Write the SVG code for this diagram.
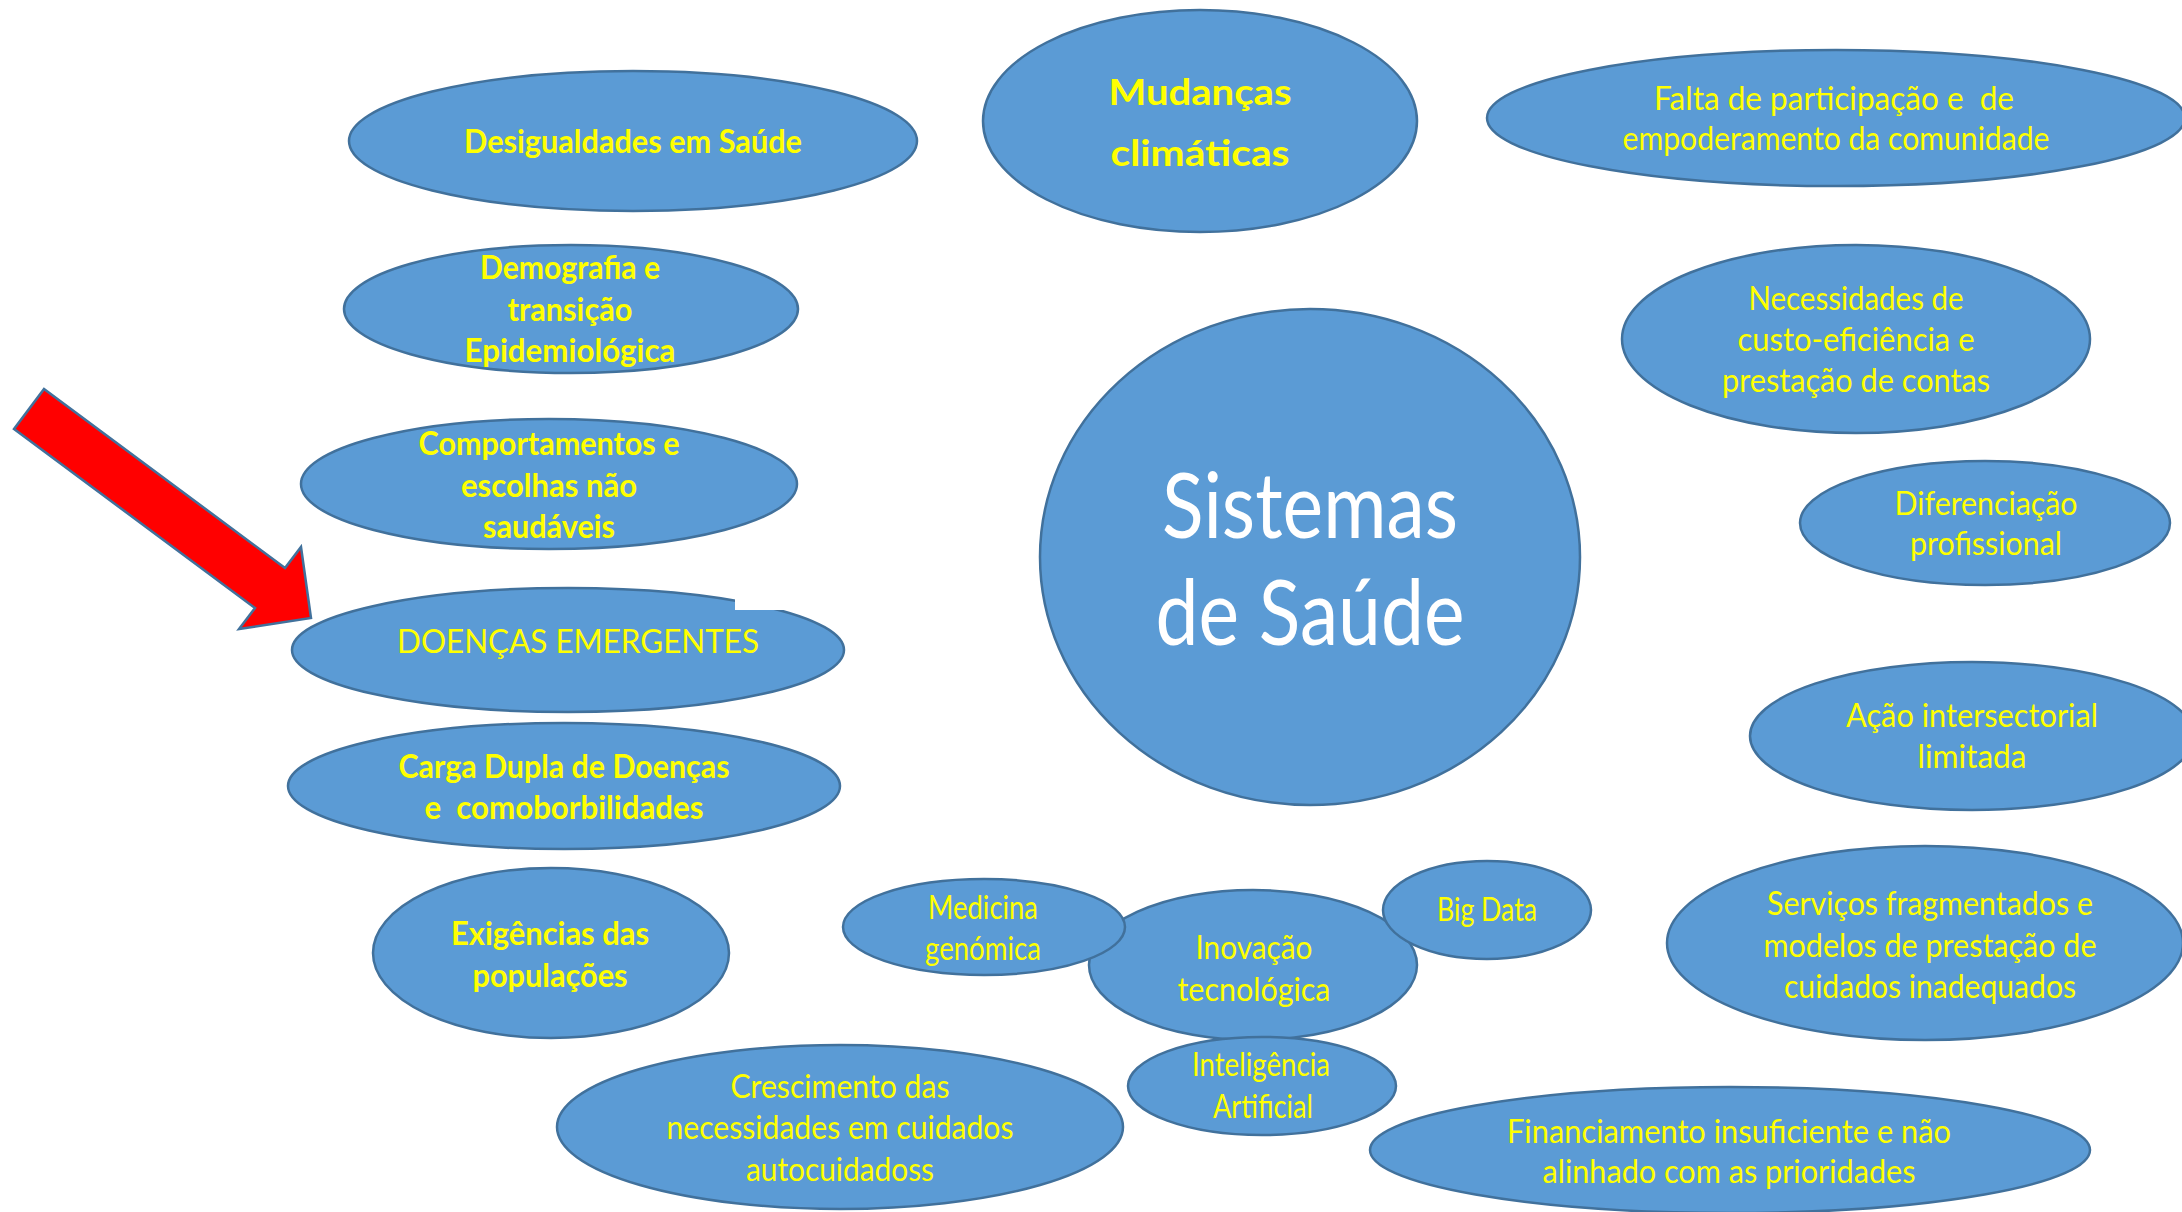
<svg xmlns="http://www.w3.org/2000/svg" width="2182" height="1212" viewBox="0 0 2182 1212">
<style>
.n{fill:#5B9BD5;stroke:#41719C;stroke-width:2.5}
.t{font-family:Lato,"Open Sans","Liberation Sans",sans-serif;font-size:33px;fill:#FFFF00;text-anchor:middle}
.b{font-weight:bold}
.w{font-family:Lato,"Open Sans","Liberation Sans",sans-serif;font-size:92px;fill:#FFFFFF;text-anchor:middle}
.arrow{fill:#FF0000;stroke:#41719C;stroke-width:2.5;stroke-linejoin:miter}
</style>
<rect x="0" y="0" width="2182" height="1212" fill="#FFFFFF"/>

<g id="desigualdades">
<ellipse class="n" cx="633" cy="141" rx="284" ry="70"/>
<text class="t b" x="633" y="153" textLength="338" lengthAdjust="spacingAndGlyphs">Desigualdades em Saúde</text>
</g>

<g id="demografia">
<ellipse class="n" cx="571" cy="309" rx="227" ry="64"/>
<text class="t b" x="570" y="279" textLength="180" lengthAdjust="spacingAndGlyphs">Demografia e</text>
<text class="t b" x="570" y="321" textLength="125" lengthAdjust="spacingAndGlyphs">transição</text>
<text class="t b" x="570" y="362" textLength="211" lengthAdjust="spacingAndGlyphs">Epidemiológica</text>
</g>

<g id="comportamentos">
<ellipse class="n" cx="549" cy="484" rx="248" ry="65"/>
<text class="t b" x="549" y="455" textLength="261" lengthAdjust="spacingAndGlyphs">Comportamentos e</text>
<text class="t b" x="549" y="497" textLength="176" lengthAdjust="spacingAndGlyphs">escolhas não</text>
<text class="t b" x="549" y="538" textLength="132" lengthAdjust="spacingAndGlyphs">saudáveis</text>
</g>

<g id="doencas-emergentes">
<ellipse class="n" cx="568" cy="650" rx="276" ry="62"/>
<rect x="735" y="594" width="49" height="16" fill="#FFFFFF"/>
<text class="t" x="578" y="653" textLength="362" lengthAdjust="spacingAndGlyphs">DOENÇAS EMERGENTES</text>
</g>

<g id="carga-dupla">
<ellipse class="n" cx="564" cy="786" rx="276" ry="63"/>
<text class="t b" x="564" y="778" textLength="331" lengthAdjust="spacingAndGlyphs">Carga Dupla de Doenças</text>
<text class="t b" x="564" y="819" textLength="279" lengthAdjust="spacingAndGlyphs" xml:space="preserve">e  comoborbilidades</text>
</g>

<g id="exigencias">
<ellipse class="n" cx="551" cy="953" rx="178" ry="85"/>
<text class="t b" x="550" y="945" textLength="198" lengthAdjust="spacingAndGlyphs">Exigências das</text>
<text class="t b" x="550" y="987" textLength="155" lengthAdjust="spacingAndGlyphs">populações</text>
</g>

<g id="crescimento">
<ellipse class="n" cx="840" cy="1127" rx="283" ry="82"/>
<text class="t" x="840" y="1098" textLength="219" lengthAdjust="spacingAndGlyphs">Crescimento das</text>
<text class="t" x="840" y="1139" textLength="347" lengthAdjust="spacingAndGlyphs">necessidades em cuidados</text>
<text class="t" x="840" y="1181" textLength="188" lengthAdjust="spacingAndGlyphs">autocuidadoss</text>
</g>

<g id="inovacao">
<ellipse class="n" cx="1253" cy="965" rx="164" ry="75"/>
<text class="t" x="1254" y="959" textLength="117" lengthAdjust="spacingAndGlyphs">Inovação</text>
<text class="t" x="1254" y="1001" textLength="153" lengthAdjust="spacingAndGlyphs">tecnológica</text>
</g>

<g id="medicina">
<ellipse class="n" cx="984" cy="927" rx="141" ry="48"/>
<text class="t" x="983" y="919" textLength="110" lengthAdjust="spacingAndGlyphs">Medicina</text>
<text class="t" x="983" y="960" textLength="116" lengthAdjust="spacingAndGlyphs">genómica</text>
</g>

<g id="big-data">
<ellipse class="n" cx="1487" cy="910" rx="104" ry="49"/>
<text class="t" x="1487" y="921" textLength="100" lengthAdjust="spacingAndGlyphs">Big Data</text>
</g>

<g id="inteligencia">
<ellipse class="n" cx="1262" cy="1086" rx="134" ry="49"/>
<text class="t" x="1261" y="1076" textLength="138" lengthAdjust="spacingAndGlyphs">Inteligência</text>
<text class="t" x="1263" y="1118" textLength="100" lengthAdjust="spacingAndGlyphs">Artificial</text>
</g>

<g id="financiamento">
<ellipse class="n" cx="1730" cy="1150" rx="360" ry="63"/>
<text class="t" x="1729" y="1143" textLength="444" lengthAdjust="spacingAndGlyphs">Financiamento insuficiente e não</text>
<text class="t" x="1729" y="1183" textLength="373" lengthAdjust="spacingAndGlyphs">alinhado com as prioridades</text>
</g>

<g id="servicos">
<ellipse class="n" cx="1925" cy="943" rx="258" ry="97"/>
<text class="t" x="1930" y="915" textLength="326" lengthAdjust="spacingAndGlyphs">Serviços fragmentados e</text>
<text class="t" x="1930" y="957" textLength="333" lengthAdjust="spacingAndGlyphs">modelos de prestação de</text>
<text class="t" x="1930" y="998" textLength="292" lengthAdjust="spacingAndGlyphs">cuidados inadequados</text>
</g>

<g id="acao-intersectorial">
<ellipse class="n" cx="1972" cy="736" rx="222" ry="74"/>
<text class="t" x="1972" y="727" textLength="252" lengthAdjust="spacingAndGlyphs">Ação intersectorial</text>
<text class="t" x="1972" y="768" textLength="109" lengthAdjust="spacingAndGlyphs">limitada</text>
</g>

<g id="diferenciacao">
<ellipse class="n" cx="1985" cy="523" rx="185" ry="62"/>
<text class="t" x="1986" y="515" textLength="183" lengthAdjust="spacingAndGlyphs">Diferenciação</text>
<text class="t" x="1986" y="555" textLength="152" lengthAdjust="spacingAndGlyphs">profissional</text>
</g>

<g id="necessidades">
<ellipse class="n" cx="1856" cy="339" rx="234" ry="94"/>
<text class="t" x="1856" y="310" textLength="215" lengthAdjust="spacingAndGlyphs">Necessidades de</text>
<text class="t" x="1856" y="351" textLength="237" lengthAdjust="spacingAndGlyphs">custo-eficiência e</text>
<text class="t" x="1856" y="392" textLength="268" lengthAdjust="spacingAndGlyphs">prestação de contas</text>
</g>

<g id="falta-participacao">
<ellipse class="n" cx="1836" cy="118" rx="349" ry="68"/>
<text class="t" x="1834" y="110" textLength="360" lengthAdjust="spacingAndGlyphs" xml:space="preserve">Falta de participação e  de</text>
<text class="t" x="1836" y="150" textLength="427" lengthAdjust="spacingAndGlyphs">empoderamento da comunidade</text>
</g>

<g id="mudancas-climaticas">
<ellipse class="n" cx="1200" cy="121" rx="217" ry="111"/>
<text class="t b" x="1200" y="105" style="font-size:37px" textLength="183" lengthAdjust="spacingAndGlyphs">Mudanças</text>
<text class="t b" x="1200" y="166" style="font-size:37px" textLength="179" lengthAdjust="spacingAndGlyphs">climáticas</text>
</g>

<g id="sistemas-de-saude">
<ellipse class="n" cx="1310" cy="557" rx="270" ry="248"/>
<text class="w" x="1310" y="538" textLength="296" lengthAdjust="spacingAndGlyphs">Sistemas</text>
<text class="w" x="1310" y="645" textLength="309" lengthAdjust="spacingAndGlyphs">de Saúde</text>
</g>

<g id="connectors">
<polygon class="arrow" points="44,389 285,568 301,547 311,618 239,629 255,608 14,429"/>
</g>
</svg>
